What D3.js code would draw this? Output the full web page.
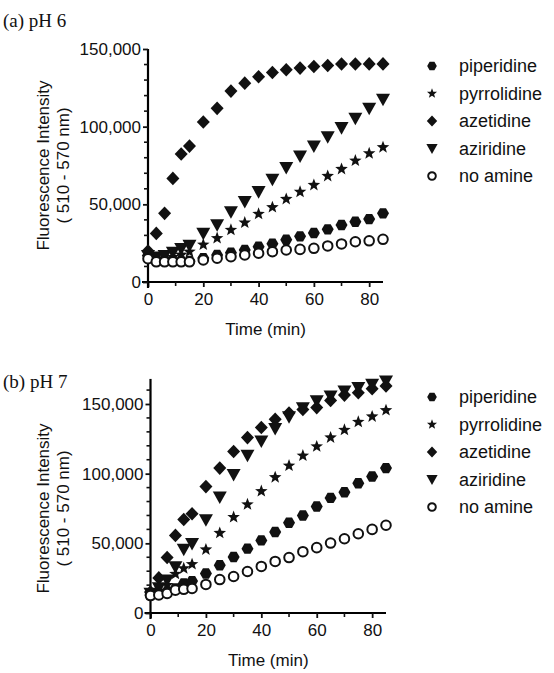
<!DOCTYPE html>
<html>
<head>
<meta charset="utf-8">
<script src="https://cdn.jsdelivr.net/npm/d3@7"></script>
<style>
  body { margin: 0; background: #fff; }
  text { font-family: "Liberation Sans", Arial, sans-serif; fill: #111; }
  .title { font-family: "Liberation Serif", "Times New Roman", serif; }
</style>
</head>
<body>
<script>
// Data___________________________________________________________
const times = [0, 3, 6, 9, 12, 15, 20, 25, 30, 35, 40, 45, 50, 55, 60, 65, 70, 75, 80, 85];
const amines = ["piperidine", "pyrrolidine", "azetidine", "aziridine", "no amine"];

// (a) pH 6
const piperidine6 = [17000, 14000, 14000, 13500, 13500, 13500, 15400, 17400, 18900, 20600, 22700, 24700, 27200, 29400, 31500, 33900, 36700, 38800, 40500, 44200];
const pyrrolidine6 = [16000, 15000, 15000, 16000, 17500, 19500, 24000, 28200, 33500, 38200, 43800, 48100, 53400, 58000, 62400, 68200, 72700, 78100, 82800, 86700];
const azetidine6 = [20000, 31300, 44200, 66700, 82400, 87500, 103000, 111800, 122900, 128000, 132100, 134900, 136600, 137700, 138700, 139400, 140300, 140300, 140400, 140400];
const aziridine6 = [17000, 16000, 17000, 19000, 21500, 23500, 31300, 36700, 45200, 51700, 58100, 66100, 73600, 81000, 87500, 93500, 99300, 105300, 111800, 117600];
const noAmine6 = [15000, 13000, 13000, 13000, 13000, 13000, 14200, 15300, 16300, 17400, 18500, 19500, 20600, 21000, 21700, 23200, 24500, 25900, 26500, 27500];

// (b) pH 7
const piperidine7 = [12900, 14500, 15200, 17600, 21200, 22900, 28300, 34300, 40200, 46200, 52100, 58100, 64800, 70000, 76400, 82600, 86700, 93100, 98000, 104000];
const pyrrolidine7 = [13000, 15500, 20000, 28000, 32000, 35000, 45500, 57400, 68800, 77900, 87400, 97400, 105700, 112900, 119500, 125900, 131400, 137100, 141000, 145500];
const azetidine7 = [15000, 25200, 39800, 55700, 67100, 71200, 90700, 104000, 115900, 125900, 133100, 139000, 143500, 146000, 147400, 152600, 156400, 158100, 161000, 163000];
const aziridine7 = [14000, 18000, 23600, 33100, 45700, 49800, 66900, 83100, 99300, 113200, 123400, 132300, 140700, 147200, 152300, 155700, 159300, 161700, 164000, 166500];
const noAmine7 = [12500, 12900, 14000, 16400, 17000, 17600, 20500, 24000, 26200, 29800, 33400, 37000, 39800, 44000, 46900, 50200, 53300, 56900, 60000, 63000];

const xTicks = [0, 20, 40, 60, 80];
const xMinorTicks = [10, 30, 50, 70];
const yTicks = [0, 50000, 100000, 150000];

// Marker shapes__________________________________________________
let polygon = (pts) => "M" + pts.map(p => p[0].toFixed(2) + "," + p[1].toFixed(2)).join("L") + "Z";
let hexagon = (r) => polygon(d3.range(6).map(i => [r * Math.cos(i * Math.PI / 3), r * Math.sin(i * Math.PI / 3)]));
let diamond = (w, h) => polygon([[0, -h], [w, 0], [0, h], [-w, 0]]);
let triangleDown = (w, h) => polygon([[-w, -h * 0.45], [w, -h * 0.45], [0, h * 0.55]]);
let star = (r) => polygon(d3.range(10).map(i => {
    let a = -Math.PI / 2 + i * Math.PI / 5;
    let rr = i % 2 ? r * 0.42 : r;
    return [rr * Math.cos(a), rr * Math.sin(a)];
}));

const markers = {
    "piperidine": { d: hexagon(6), fill: "#111", stroke: "none" },
    "pyrrolidine": { d: star(6.6), fill: "#111", stroke: "none" },
    "azetidine": { d: diamond(6.5, 6.8), fill: "#111", stroke: "none" },
    "aziridine": { d: triangleDown(7, 12.5), fill: "#111", stroke: "none" },
    "no amine": { d: d3.symbol(d3.symbolCircle, 72)(), fill: "#fff", stroke: "#111" }
};

// Chart__________________________________________________________
const svg = d3.select("body").append("svg")
    .attr("width", 554)
    .attr("height", 673);

function drawPanel(title, series, yMax, box) {
    const g = svg.append("g");

    let xScale = d3.scaleLinear().domain([0, 85]).range([box.left, box.right]);
    let yScale = d3.scaleLinear().domain([0, 150000]).range([box.bottom, box.y150]);
    let yTop = yScale(yMax);

    // Axes
    const xAxis = d3.axisBottom(xScale).tickValues(xTicks).tickSize(5).tickSizeOuter(0).tickPadding(6);
    const yAxis = d3.axisLeft(yScale).tickValues(yTicks).tickSize(5).tickSizeOuter(0).tickPadding(2)
        .tickFormat(d3.format(","));

    g.append("g")
        .attr("transform", `translate(0, ${box.bottom})`)
        .call(xAxis)
        .call(a => a.select(".domain").attr("stroke-width", 2.2).attr("d", `M${box.left - 6},0H${box.right}`));
    g.append("g")
        .attr("transform", `translate(${box.left}, 0)`)
        .call(yAxis)
        .call(a => a.select(".domain").attr("stroke-width", 2.2).attr("d", `M0,${box.bottom + 6}V${yTop}`));

    // minor ticks
    g.append("g").selectAll("line")
        .data(xMinorTicks)
        .enter()
        .append("line")
        .attr("x1", d => xScale(d)).attr("x2", d => xScale(d))
        .attr("y1", box.bottom).attr("y2", box.bottom + 4)
        .attr("stroke", "#111").attr("stroke-width", 1.6);
    g.append("g").selectAll("line")
        .data(d3.range(10000, yMax + 1, 10000).filter(v => v % 50000 !== 0))
        .enter()
        .append("line")
        .attr("x1", box.left - 4).attr("x2", box.left)
        .attr("y1", d => yScale(d)).attr("y2", d => yScale(d))
        .attr("stroke", "#111").attr("stroke-width", 1.6);

    g.selectAll(".tick line").attr("stroke", "#111").attr("stroke-width", 1.8);
    g.selectAll(".tick text")
        .style("font-family", '"Liberation Sans", Arial, sans-serif')
        .style("font-size", "17px")
        .attr("fill", "#111");

    // Axis titles
    let yMid = (box.bottom + box.y150) / 2;
    let yLabel = g.append("text")
        .attr("transform", `translate(49, ${yMid}) rotate(-90)`)
        .attr("text-anchor", "middle")
        .style("font-size", "17px");
    yLabel.append("tspan").attr("x", 0).attr("dy", 0).text("Fluorescence Intensity");
    yLabel.append("tspan").attr("x", 0).attr("dy", 20).text("( 510 - 570 nm)");

    g.append("text")
        .attr("x", (box.left + box.right) / 2)
        .attr("y", box.bottom + 53)
        .attr("text-anchor", "middle")
        .style("font-size", "17px")
        .text("Time (min)");

    g.append("text")
        .attr("class", "title")
        .attr("x", 3)
        .attr("y", box.titleY)
        .style("font-size", "19px")
        .text(title);

    // Points
    series.forEach((values, i) => {
        let m = markers[amines[i]];
        g.append("g").selectAll("path")
            .data(values)
            .enter()
            .append("path")
            .attr("d", m.d)
            .attr("transform", (d, j) => `translate(${xScale(times[j])}, ${yScale(d)})`)
            .attr("fill", m.fill)
            .attr("stroke", m.stroke)
            .attr("stroke-width", 2);
    });

    // Legend
    amines.forEach((name, i) => {
        let m = markers[name];
        let ly = box.legendY + i * 27.5;
        g.append("path")
            .attr("d", m.d)
            .attr("transform", `translate(432, ${ly}) scale(0.8)`)
            .attr("fill", m.fill)
            .attr("stroke", m.stroke)
            .attr("stroke-width", 2.4);
        g.append("text")
            .attr("x", 459)
            .attr("y", ly + 6)
            .style("font-size", "18px")
            .text(name);
    });
}

drawPanel("(a) pH 6",
    [piperidine6, pyrrolidine6, azetidine6, aziridine6, noAmine6],
    150000,
    { left: 148, right: 383, bottom: 282, y150: 49, titleY: 27, legendY: 66 });

drawPanel("(b) pH 7",
    [piperidine7, pyrrolidine7, azetidine7, aziridine7, noAmine7],
    168000,
    { left: 150.5, right: 386, bottom: 613, y150: 404, titleY: 388, legendY: 397 });
</script>
</body>
</html>
